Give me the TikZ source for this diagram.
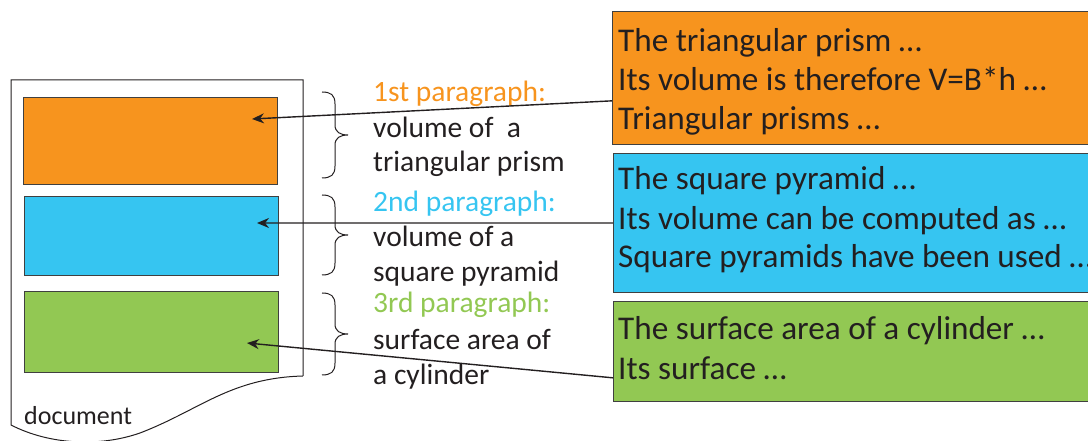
\documentclass[tikz,border=0pt]{standalone}
\usepackage{fontspec}
\setmainfont{Carlito}
\usetikzlibrary{arrows.meta,calc}
\definecolor{corange}{HTML}{F7941E}
\definecolor{cblue}{HTML}{36C5F1}
\definecolor{cgreen}{HTML}{92C853}
\definecolor{ctext}{HTML}{231F20}
\definecolor{cedge}{HTML}{404040}
\tikzset{
  box/.style={draw=cedge, line width=1.1bp, rectangle, inner sep=0pt, anchor=north west},
  bigtxt/.style={anchor=base west, inner sep=0pt, text=ctext, font=\fontsize{33.2bp}{39bp}\selectfont},
  midtxt/.style={anchor=base west, inner sep=0pt, text=ctext, font=\fontsize{29.5bp}{35bp}\selectfont},
  arr/.style={line width=1.4bp, draw=ctext, -{Stealth[length=12bp,width=10bp]}},
  bracepath/.style={line width=1bp, draw=ctext},
}
\begin{document}
\begin{tikzpicture}[x=1bp,y=-1bp]
\useasboundingbox (0,0) rectangle (1088,441);
% document outline
\draw[line width=1bp, draw=ctext] (303,376) -- (303,80) -- (11,80) -- (11,425)
  .. controls (50,445) and (100,447) .. (140,433)
  .. controls (200,410) and (230,378) .. (303,376);
\node[anchor=base west, inner sep=0pt, text=ctext, font=\fontsize{26bp}{30bp}\selectfont] (doc) at (24,425) {document};
% left rectangles
\node[box, fill=corange, minimum width=254bp, minimum height=87bp] (l1) at (23,97) {};
\node[box, fill=cblue, minimum width=254bp, minimum height=79bp] (l2) at (24,196) {};
\node[box, fill=cgreen, minimum width=254bp, minimum height=81bp] (l3) at (24,291) {};
\coordinate (t1) at (252,119);
\coordinate (t2) at (257,223);
\coordinate (t3) at (247,343);
% right boxes
\node[box, fill=corange, minimum width=490bp, minimum height=133bp] (r1) at (612,11) {};
\node[box, fill=cblue, minimum width=489bp, minimum height=139bp] (r2) at (613,153) {};
\node[box, fill=cgreen, minimum width=489bp, minimum height=100bp] (r3) at (613,301) {};
\node[bigtxt] (r1a) at (618,52) {The triangular prism …};
\node[bigtxt] (r1b) at (618,91) {Its volume is therefore V=B*h …};
\node[bigtxt] (r1c) at (618,130) {Triangular prisms …};
\node[bigtxt] (r2a) at (618,190) {The square pyramid …};
\node[bigtxt] (r2b) at (618,230) {Its volume can be computed as …};
\node[bigtxt] (r2c) at (618,268) {Square pyramids have been used …};
\node[bigtxt] (r3a) at (618,340) {The surface area of a cylinder …};
\node[bigtxt] (r3b) at (618,380) {Its surface …};
% middle labels
\node[midtxt, text=corange] (m1a) at (373,102) {1st paragraph:};
\node[midtxt] (m1b) at (373,138) {volume of\ \ a};
\node[midtxt] (m1c) at (373,172) {triangular prism};
\node[midtxt, text=cblue] (m2a) at (373,212) {2nd paragraph:};
\node[midtxt] (m2b) at (373,247) {volume of a};
\node[midtxt] (m2c) at (373,282) {square pyramid};
\node[midtxt, text=cgreen] (m3a) at (373,313) {3rd paragraph:};
\node[midtxt] (m3b) at (373,350) {surface area of};
\node[midtxt] (m3c) at (373,385) {a cylinder};
% braces
\foreach \top/\bot in {92/178, 195/275, 293/375}{
  \pgfmathsetmacro{\mid}{(\top+\bot)/2}
  \draw[bracepath] (322,\top) .. controls (331,\top) and (335,\top+3) .. (335,\top+12)
    -- (335,\mid-10) .. controls (335,\mid-3) and (340,\mid) .. (348,\mid)
    .. controls (340,\mid) and (335,\mid+3) .. (335,\mid+10)
    -- (335,\bot-12) .. controls (335,\bot-3) and (331,\bot) .. (322,\bot);
}
% arrows
\draw[arr] ($(r1.north west)!0.67!(r1.south west)$) -- (t1);
\draw[arr] (r2.west) -- (t2);
\draw[arr] ($(r3.north west)!0.76!(r3.south west)$) -- (t3);
\end{tikzpicture}
\end{document}
